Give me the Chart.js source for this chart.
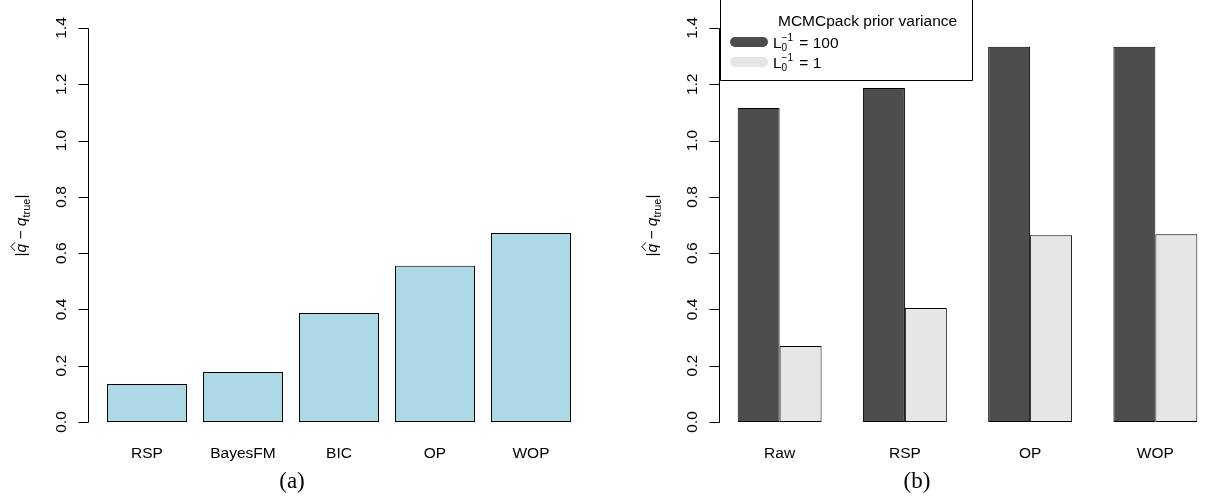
<!DOCTYPE html>
<html>
<head>
<meta charset="utf-8">
<script src="https://cdn.jsdelivr.net/npm/chart.js@4"></script>
<style>
  html, body { margin: 0; padding: 0; background: #fff; width: 1205px; height: 499px; overflow: hidden; }
  #wrap { position: relative; width: 1205px; height: 499px; overflow: hidden; }
  canvas { position: absolute; top: 0; }
  #leftChart { left: 0; }
  #rightChart { left: 600px; }
  .caption { position: absolute; top: 468px; font: 23px "Liberation Serif", "Times New Roman", serif; color: #000; transform: translateX(-50%); }
</style>
</head>
<body>
<div id="wrap">
  <canvas id="leftChart" width="602" height="499"></canvas>
  <canvas id="rightChart" width="630" height="499"></canvas>
  <div class="caption" style="left:292px">(a)</div>
  <div class="caption" style="left:917px">(b)</div>
</div>
<script>
// data
const yTicks = [0, 0.2, 0.4, 0.6, 0.8, 1.0, 1.2, 1.4];

const leftCategories = ['RSP', 'BayesFM', 'BIC', 'OP', 'WOP'];
const leftValues = [0.135, 0.178, 0.387, 0.555, 0.672];

const rightCategories = ['Raw', 'RSP', 'OP', 'WOP'];
const prior100Values = [1.116, 1.187, 1.333, 1.333];
const prior1Values = [0.270, 0.405, 0.664, 0.667];
const priorLabels = ['100', '1'];
const legendTitle = 'MCMCpack prior variance';

const SANS = '"Liberation Sans", Arial, Helvetica, sans-serif';
const FONT_SIZE = 15.5;

// |q̂ - q_true| drawn sideways, like R plotmath
function drawYTitle(ctx, x, y) {
    ctx.save();
    ctx.translate(x, y);
    ctx.rotate(-Math.PI / 2);
    const big = FONT_SIZE + 'px ' + SANS;
    const ital = 'italic ' + FONT_SIZE + 'px ' + SANS;
    const small = '11px ' + SANS;
    const parts = [
        { t: '|', f: big, dy: 0 },
        { t: 'q', f: ital, dy: 0, hat: true },
        { t: ' \u2212 ', f: big, dy: 0 },
        { t: 'q', f: ital, dy: 0 },
        { t: 'true', f: small, dy: 4 },
        { t: '|', f: big, dy: 0 }
    ];
    let w = 0;
    parts.forEach(p => { ctx.font = p.f; p.w = ctx.measureText(p.t).width; w += p.w; });
    let cx = -w / 2;
    const base = 5.5;
    ctx.fillStyle = '#000';
    ctx.strokeStyle = '#000';
    ctx.textAlign = 'left';
    ctx.textBaseline = 'alphabetic';
    parts.forEach(p => {
        ctx.font = p.f;
        ctx.fillText(p.t, cx, base + p.dy);
        if (p.hat) {
            ctx.lineWidth = 1;
            ctx.beginPath();
            ctx.moveTo(cx + 1.5, base - 11);
            ctx.lineTo(cx + p.w / 2 + 1.5, base - 15);
            ctx.lineTo(cx + p.w + 1.5, base - 11);
            ctx.stroke();
        }
        cx += p.w;
    });
    ctx.restore();
}

// R style y axis: line, ticks, sideways labels, title
const rAxisPlugin = {
    id: 'rAxis',
    afterDraw(chart, args, opts) {
        const ctx = chart.ctx;
        const y = chart.scales.y;
        const ax = Math.round(chart.chartArea.left + opts.offset) + 0.5;
        const top = Math.round(y.getPixelForValue(yTicks[yTicks.length - 1])) + 0.5;
        const bottom = Math.round(y.getPixelForValue(yTicks[0])) + 0.5;
        ctx.save();
        ctx.strokeStyle = '#000';
        ctx.lineWidth = 1;
        ctx.beginPath();
        ctx.moveTo(ax, top);
        ctx.lineTo(ax, bottom);
        yTicks.forEach(v => {
            const py = Math.round(y.getPixelForValue(v)) + 0.5;
            ctx.moveTo(ax - 10, py);
            ctx.lineTo(ax, py);
        });
        ctx.stroke();

        ctx.fillStyle = '#000';
        ctx.font = FONT_SIZE + 'px ' + SANS;
        ctx.textAlign = 'center';
        ctx.textBaseline = 'middle';
        yTicks.forEach(v => {
            ctx.save();
            ctx.translate(ax - 27, y.getPixelForValue(v));
            ctx.rotate(-Math.PI / 2);
            ctx.fillText(v.toFixed(1), 0, 0);
            ctx.restore();
        });
        drawYTitle(ctx, ax - 68, (top + bottom) / 2);
        ctx.restore();
    }
};

// boxed legend with L_0^-1 labels
const boxLegendPlugin = {
    id: 'boxLegend',
    afterDraw(chart, args, opts) {
        if (!opts.show) return;
        const ctx = chart.ctx;
        const left = Math.round(chart.chartArea.left + opts.offset) + 0.5;
        const right = left + 252;
        const bottom = 80.5;
        ctx.save();
        ctx.fillStyle = '#fff';
        ctx.fillRect(left, -1, right - left, bottom + 1);
        ctx.strokeStyle = '#000';
        ctx.lineWidth = 1;
        ctx.beginPath();
        ctx.moveTo(left, -1);
        ctx.lineTo(left, bottom);
        ctx.lineTo(right, bottom);
        ctx.lineTo(right, -1);
        ctx.stroke();

        ctx.fillStyle = '#000';
        ctx.font = FONT_SIZE + 'px ' + SANS;
        ctx.textAlign = 'left';
        ctx.textBaseline = 'alphabetic';
        ctx.fillText(legendTitle, left + 57.5, 26);

        chart.data.datasets.forEach((ds, i) => {
            const cy = 42 + i * 20;
            ctx.strokeStyle = ds.backgroundColor;
            ctx.lineWidth = 10;
            ctx.lineCap = 'round';
            ctx.beginPath();
            ctx.moveTo(left + 14.5, cy);
            ctx.lineTo(left + 42.5, cy);
            ctx.stroke();

            let x = left + 52.5;
            const base = cy + 5.5;
            ctx.font = FONT_SIZE + 'px ' + SANS;
            ctx.fillText('L', x, base);
            x += ctx.measureText('L').width;
            ctx.font = '10px ' + SANS;
            ctx.fillText('0', x, base + 3);
            ctx.fillText('\u22121', x, base - 7);
            x += ctx.measureText('\u22121').width + 2;
            ctx.font = FONT_SIZE + 'px ' + SANS;
            ctx.fillText(' = ' + ds.label, x, base);
        });
        ctx.restore();
    }
};

function xAxis() {
    return {
        grid: { display: false, drawTicks: false },
        border: { display: false },
        ticks: { color: '#000', font: { family: SANS, size: FONT_SIZE }, padding: 22, maxRotation: 0, autoSkip: false },
        afterFit: s => { s.height = 77; }
    };
}

// left panel (a)
new Chart(document.getElementById('leftChart'), {
    type: 'bar',
    data: {
        labels: leftCategories,
        datasets: [{
            data: leftValues,
            backgroundColor: '#ADD8E6',
            borderColor: '#000',
            borderWidth: 1,
            borderSkipped: false,
            barPercentage: 0.833,
            categoryPercentage: 1
        }]
    },
    options: {
        responsive: false,
        devicePixelRatio: 1,
        animation: false,
        layout: { padding: { left: 99, right: 23, top: 28, bottom: 0 } },
        plugins: {
            legend: { display: false },
            tooltip: { enabled: false },
            rAxis: { offset: -11 },
            boxLegend: { show: false }
        },
        scales: {
            x: xAxis(),
            y: { display: false, min: 0, max: 1.4 }
        }
    },
    plugins: [rAxisPlugin, boxLegendPlugin]
});

// right panel (b)
new Chart(document.getElementById('rightChart'), {
    type: 'bar',
    data: {
        labels: rightCategories,
        datasets: [
            {
                label: priorLabels[0],
                data: prior100Values,
                backgroundColor: '#4D4D4D',
                borderColor: '#000',
                borderWidth: 1,
                borderSkipped: false,
                barPercentage: 1,
                categoryPercentage: 0.67
            },
            {
                label: priorLabels[1],
                data: prior1Values,
                backgroundColor: '#E6E6E6',
                borderColor: '#000',
                borderWidth: 1,
                borderSkipped: false,
                barPercentage: 1,
                categoryPercentage: 0.67
            }
        ]
    },
    options: {
        responsive: false,
        devicePixelRatio: 1,
        animation: false,
        layout: { padding: { left: 117, right: 12, top: 28, bottom: 0 } },
        plugins: {
            legend: { display: false },
            tooltip: { enabled: false },
            rAxis: { offset: 2 },
            boxLegend: { show: true, offset: 3 }
        },
        scales: {
            x: xAxis(),
            y: { display: false, min: 0, max: 1.4 }
        }
    },
    plugins: [rAxisPlugin, boxLegendPlugin]
});
</script>
</body>
</html>
